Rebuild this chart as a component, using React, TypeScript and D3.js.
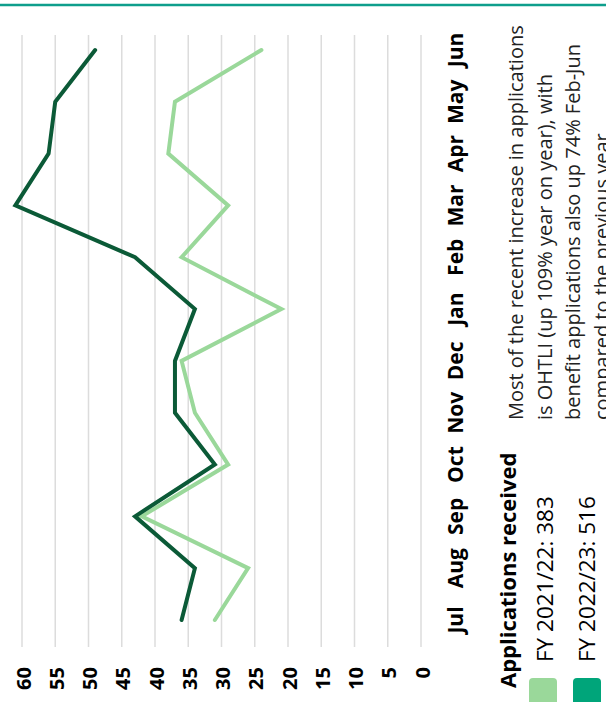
import React from 'react';
import * as d3 from 'd3';

const months = ['Jul', 'Aug', 'Sep', 'Oct', 'Nov', 'Dec', 'Jan', 'Feb', 'Mar', 'Apr', 'May', 'Jun'];
const fy2122 = [31, 26, 42, 29, 34, 36, 21, 36, 29, 38, 37, 24];
const fy2223 = [36, 34, 43, 31, 37, 37, 34, 43, 61, 56, 55, 49];
const valueTicks = [0, 5, 10, 15, 20, 25, 30, 35, 40, 45, 50, 55, 60];
const legendLabels = ['FY 2021/22: 383', 'FY 2022/23: 516'];
const title = 'Applications received';
const noteLines = [
  'Most of the recent increase in applications',
  'is OHTLI (up 109% year on year), with',
  'benefit applications also up 74% Feb-Jun',
  'compared to the previous year',
];

const IMG_W = 606;
const IMG_H = 702;
const FONT = "'Open Sans', 'Noto Sans', sans-serif";
const LIGHT = '#9ad89a';
const DARK = '#0b5a37';
const DARK_SWATCH = '#00a57a';

export default function App() {
  // local (rotated) frame: u along image upward, v along image rightward
  const x = d3.scalePoint<string>().domain(months).range([82, 652]);
  const y = d3.scaleLinear().domain([0, 60]).range([421, 22]);
  const line = d3
    .line<number>()
    .x((_, i) => x(months[i]) as number)
    .y((d) => y(d));

  const series = [
    { values: fy2122, color: LIGHT },
    { values: fy2223, color: DARK },
  ];
  const swatches = [LIGHT, DARK_SWATCH];

  return (
    <div style={{ position: 'fixed', left: 0, top: 0, width: IMG_W, height: IMG_H, background: '#fff' }}>
      <svg width={IMG_W} height={IMG_H} style={{ display: 'block', fontFamily: FONT }}>
        <rect x={0} y={0} width={IMG_W} height={IMG_H} fill="#fff" />
        <line x1={0} x2={IMG_W} y1={5} y2={5} stroke="#0e9e8c" strokeWidth={2.5} />
        <g transform={`translate(0,${IMG_H}) rotate(-90)`}>
          {valueTicks.map((t) => (
            <g key={t}>
              <line x1={55} x2={667} y1={y(t)} y2={y(t)} stroke="#dcdcdc" strokeWidth={1.5} />
              <text
                x={35}
                y={y(t) + 1}
                textAnchor="end"
                dominantBaseline="central"
                fontSize={20}
                fontWeight={700}
                fill="#000"
              >
                {t}
              </text>
            </g>
          ))}
          {months.map((m) => (
            <text key={m} x={x(m)} y={463} textAnchor="middle" fontSize={21} fontWeight={700} fill="#000">
              {m}
            </text>
          ))}
          {series.map((s, i) => (
            <path
              key={i}
              d={line(s.values) || ''}
              fill="none"
              stroke={s.color}
              strokeWidth={4}
              strokeLinecap="round"
              strokeLinejoin="miter"
            />
          ))}
          <text x={14} y={516} fontSize={22} fontWeight={700} fill="#000">
            {title}
          </text>
          {legendLabels.map((l, i) => (
            <g key={l}>
              <rect x={-4} y={529 + i * 44} width={28} height={28} rx={4} fill={swatches[i]} />
              <text x={40} y={553 + i * 42} fontSize={22.5} fill="#000">
                {l}
              </text>
            </g>
          ))}
          {noteLines.map((l, i) => (
            <text key={i} x={282} y={523 + i * 28.5} fontSize={20} fill="#222">
              {l}
            </text>
          ))}
        </g>
      </svg>
    </div>
  );
}
